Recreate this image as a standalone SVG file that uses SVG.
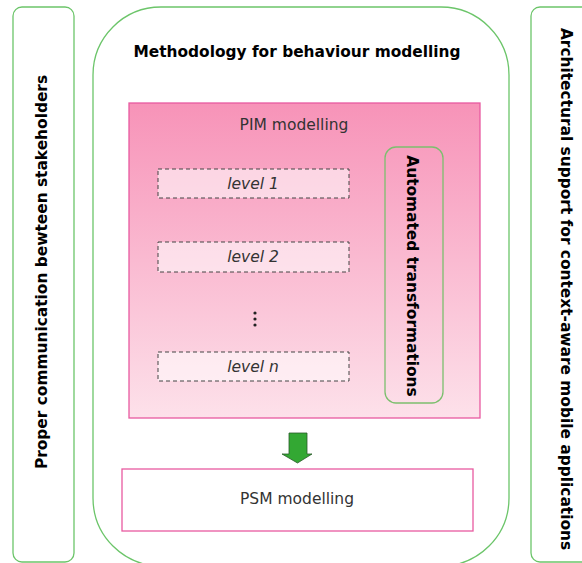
<svg xmlns="http://www.w3.org/2000/svg" width="582" height="563" viewBox="0 0 582 563">
  <defs>
    <linearGradient id="pimFill" x1="0" y1="0" x2="0" y2="1">
      <stop offset="0" stop-color="#f793b8"/>
      <stop offset="1" stop-color="#fde1ea"/>
    </linearGradient>
    <style>
      .panel { fill: #ffffff; stroke: #6cc56a; stroke-width: 1.3; }
      .pink { stroke: #e85aa0; stroke-width: 1.3; }
      .level { fill: #ffffff; fill-opacity: 0.55; stroke: #444444; stroke-width: 1; stroke-dasharray: 4 3; }
      .bold { font-family: "DejaVu Sans", Verdana, sans-serif; font-weight: bold; font-size: 15.4px; fill: #000000; }
      .plain { font-family: "DejaVu Sans", Verdana, sans-serif; font-size: 15.5px; fill: #333333; }
      .ital { font-family: "DejaVu Sans", Verdana, sans-serif; font-style: italic; font-size: 15.5px; fill: #333333; }
    </style>
  </defs>

  <!-- left side panel -->
  <g id="communication">
    <rect class="panel" x="13" y="7" width="61" height="555" rx="9"/>
    <text class="bold" transform="translate(47 272) rotate(-90)" text-anchor="middle">Proper communication bewteen stakeholders</text>
  </g>

  <!-- right side panel -->
  <g id="architecture">
    <rect class="panel" x="531" y="7" width="70" height="555" rx="9"/>
    <text class="bold" transform="translate(561 289) rotate(90)" text-anchor="middle">Architectural support for context-aware mobile applications</text>
  </g>

  <!-- central methodology container -->
  <g id="methodology">
    <rect class="panel" x="93" y="7" width="416" height="559" rx="68"/>
    <text class="bold" x="297" y="57" text-anchor="middle">Methodology for behaviour modelling</text>
  </g>

  <!-- PIM modelling block -->
  <g id="pim">
    <rect class="pink" x="129" y="103" width="351" height="315" fill="url(#pimFill)"/>
    <text class="plain" x="294" y="130" text-anchor="middle">PIM modelling</text>
  </g>

  <g id="level1">
    <rect class="level" x="158" y="169" width="191" height="29"/>
    <text class="ital" x="253" y="189" text-anchor="middle">level 1</text>
  </g>
  <g id="level2">
    <rect class="level" x="158" y="242" width="191" height="30"/>
    <text class="ital" x="253" y="262" text-anchor="middle">level 2</text>
  </g>
  <g id="ellipsis">
    <circle cx="255" cy="313" r="1.6" fill="#222"/>
    <circle cx="255" cy="319" r="1.6" fill="#222"/>
    <circle cx="255" cy="325" r="1.6" fill="#222"/>
  </g>
  <g id="leveln">
    <rect class="level" x="158" y="352" width="191" height="29"/>
    <text class="ital" x="253" y="372" text-anchor="middle">level n</text>
  </g>

  <g id="transformations">
    <rect x="385" y="147" width="58" height="256" rx="11" fill="none" stroke="#7cbf6e" stroke-width="1.3"/>
    <text class="bold" transform="translate(407 276) rotate(90)" text-anchor="middle">Automated transformations</text>
  </g>

  <!-- PIM to PSM flow -->
  <g id="connectors">
    <path d="M289 433 H307 V454 H312 L297.5 463 L282 454 H289 Z" fill="#33a833" stroke="#2a5a2a" stroke-width="0.8"/>
  </g>

  <g id="psm">
    <rect class="pink" x="122" y="469" width="351" height="62" fill="#ffffff"/>
    <text class="plain" x="297" y="504" text-anchor="middle">PSM modelling</text>
  </g>
</svg>
